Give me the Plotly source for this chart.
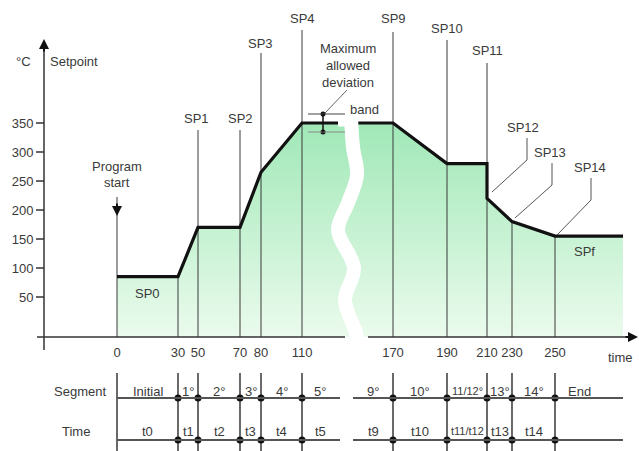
import plotly.graph_objects as go

# ---------------- data ----------------
times = [0, 30, 50, 70, 80, 110, 170, 190, 210, 230, 250]
time_tick_labels = ["0", "30", "50", "70", "80", "110", "170", "190", "210", "230", "250"]
# schematic (non-proportional) position of each time on the diagram's axis
time_pos = [0, 61, 81, 123, 144, 185, 276, 330, 370, 395, 438]

# setpoint profile: time -> °C
profile_t = [0, 30, 50, 70, 80, 110, 170, 190, 210, 210, 230, 250]
profile_v = [85, 85, 170, 170, 265, 350, 350, 280, 280, 220, 180, 155]
final_setpoint = 155

y_ticks = [50, 100, 150, 200, 250, 300, 350]

segments = ["Initial", "1°", "2°", "3°", "4°", "5°", "9°", "10°", "11/12°", "13°", "14°", "End"]
segment_times = ["t0", "t1", "t2", "t3", "t4", "t5", "t9", "t10", "t11/t12", "t13", "t14", ""]

# ---------------- layout helpers ----------------
W, H = 639, 451
X0_PX = 117          # pixel of time 0
ZERO_PY = 326        # pixel of 0 °C
PX_PER_DEG = 0.58


def X(px):
    return px - X0_PX


def Y(py):
    return (ZERO_PY - py) / PX_PER_DEG


pos_of = dict(zip(times, time_pos))
BASE = Y(337)
END_POS = X(623)

TXT = "#3a3a3a"
FONT = "Liberation Sans, Arial, sans-serif"
FS = 13

fig = go.Figure()

# green filled area under the profile
px_prof = [pos_of[t] for t in profile_t]
fig.add_trace(go.Scatter(
    x=[0] + px_prof + [END_POS, END_POS],
    y=[BASE] + profile_v + [final_setpoint, BASE],
    fill="toself", mode="lines", line=dict(width=0),
    fillgradient=dict(type="vertical", colorscale=[[0, "#ebfbed"], [1, "#a0e8b7"]],
                      start=BASE, stop=350),
    hoverinfo="skip", showlegend=False))

# vertical setpoint lines
vline_top_py = [197, None, 130, 130, 53, 30, 32, 40, 63, None, None]
vx, vy = [], []
for t, p, top in zip(times, time_pos, vline_top_py):
    if top is None:
        ytop = profile_v[len(profile_t) - 1 - profile_t[::-1].index(t)]
    else:
        ytop = Y(top)
    vx += [p, p, None]
    vy += [BASE, ytop, None]
fig.add_trace(go.Scatter(x=vx, y=vy, mode="lines", line=dict(color="#3a3a3a", width=1),
                         hoverinfo="skip", showlegend=False))

# setpoint profile line
fig.add_trace(go.Scatter(x=px_prof + [END_POS], y=profile_v + [final_setpoint], mode="lines",
                         line=dict(color="#111111", width=3.2), hoverinfo="skip", showlegend=False))

# white wavy break band
band_px = [(351, 117), (353, 147), (357, 175), (348, 203), (338, 230), (354, 268), (345, 300), (356, 333), (357, 341)]
fig.add_trace(go.Scatter(x=[X(a) for a, b in band_px], y=[Y(b) for a, b in band_px], mode="lines",
                         line=dict(color="white", width=14, shape="spline"),
                         hoverinfo="skip", showlegend=False))
fig.add_trace(go.Scatter(x=[X(338), X(357)], y=[350, 350], mode="lines",
                         line=dict(color="white", width=7), hoverinfo="skip", showlegend=False))

# table vertical lines and dots
tx, ty = [], []
for p in time_pos:
    tx += [p, p, None]
    ty += [Y(373), Y(455), None]
fig.add_trace(go.Scatter(x=tx, y=ty, mode="lines", line=dict(color="#444444", width=1.6),
                         hoverinfo="skip", showlegend=False))
row_y = [Y(398), Y(440)]
dx = [p for p in time_pos[1:] for _ in row_y]
dy = [r for _ in time_pos[1:] for r in row_y]
fig.add_trace(go.Scatter(x=dx, y=dy, mode="markers", marker=dict(color="#111111", size=7),
                         hoverinfo="skip", showlegend=False))

shapes = []


def seg(x0, y0, x1, y1, color="#444444", width=1):
    shapes.append(dict(type="line", xref="x", yref="y", x0=X(x0), y0=Y(y0), x1=X(x1), y1=Y(y1),
                       line=dict(color=color, width=width), layer="above"))


# axes lines
seg(44, 350, 44, 46, "#333333", 1.5)
seg(37, 337, 345, 337, "#333333", 1.5)
seg(368, 337, 632, 337, "#333333", 1.5)
# table horizontal lines
for r in (398, 440):
    seg(117, r, 340, r, "#555555", 2)
    seg(353, r, 623, r, "#555555", 2)
# deviation band marker
seg(308, 114, 345, 114, "#444444", 1)
seg(308, 132, 345, 132, "#888888", 1)
seg(323, 114, 323, 132, "#111111", 1.5)
seg(325, 113, 347, 90, "#666666", 1)
# SP12 / SP13 / SP14 leaders
for (lx, ly0, ly1, ex, ey) in [(527, 138, 160, 492, 192), (552, 163, 185, 515, 218), (591, 178, 200, 557, 235)]:
    seg(lx, ly0, lx, ly1, "#555555", 1)
    seg(lx, ly1, ex, ey, "#555555", 1)

fig.add_trace(go.Scatter(x=[X(323), X(323)], y=[Y(114), Y(132)], mode="markers",
                         marker=dict(color="#111111", size=5), hoverinfo="skip", showlegend=False))

annotations = []


def txt(px, py, s, size=FS, xanchor="center"):
    annotations.append(dict(x=X(px), y=Y(py), xref="x", yref="y", text=s, showarrow=False,
                            xanchor=xanchor, yanchor="middle", font=dict(family=FONT, size=size, color=TXT)))


def arrow(px, py, ax, ay):
    annotations.append(dict(x=X(px), y=Y(py), xref="x", yref="y", text="", showarrow=True,
                            ax=ax, ay=ay, arrowhead=2, arrowsize=1, arrowwidth=2, arrowcolor="#111111",
                            standoff=0))


arrow(44, 39, 0, 14)
arrow(638, 337, -14, 0)
arrow(117, 216, 0, -14)

txt(23, 61, "°C")
txt(48, 61, "Setpoint", xanchor="left")
txt(117, 166, "Program")
txt(117, 182, "start")
txt(348, 48, "Maximum")
txt(348, 65, "allowed")
txt(348, 82, "deviation")
txt(364, 109, "band")
txt(620, 357, "time")

sp_labels = ["SP0", "SP1", "SP2", "SP3", "SP4", "SP9", "SP10", "SP11", "SP12", "SP13", "SP14", "SPf"]
sp_label_px = [(147, 293), (196, 118), (240, 118), (260, 43), (302, 18), (393, 18), (447, 28),
               (487, 50), (523, 127), (550, 152), (590, 167), (584, 251)]
for s, (a, b) in zip(sp_labels, sp_label_px):
    txt(a, b, s)

txt(80, 391, "Segment")
txt(76, 431, "Time")
cell_edges = [(0, 61), (61, 81), (81, 123), (123, 144), (144, 185), (185, X(338)),
              (X(353), 276), (276, 330), (330, 370), (370, 395), (395, 438), (438, X(604))]
for s, tl, (a, b) in zip(segments, segment_times, cell_edges):
    c = (a + b) / 2 + X0_PX
    sz = 11 if "/" in s else FS
    txt(c, 391, s, sz)
    if tl:
        txt(c, 431, tl, sz)

fig.update_layout(
    width=W, height=H, margin=dict(l=0, r=0, t=0, b=0),
    paper_bgcolor="white", plot_bgcolor="white", showlegend=False,
    shapes=shapes, annotations=annotations,
    font=dict(family=FONT, size=FS, color=TXT),
    xaxis=dict(range=[X(0), X(W)], showgrid=False, zeroline=False, showline=False,
               tickmode="array", tickvals=time_pos, ticktext=time_tick_labels, ticks="",
               anchor="free", position=1 - 337 / H, ticklabelstandoff=6,
               tickfont=dict(family=FONT, size=FS, color=TXT), fixedrange=True),
    yaxis=dict(range=[Y(H), Y(0)], showgrid=False, zeroline=False, showline=False,
               tickmode="array", tickvals=y_ticks, ticks="outside", ticklen=8, tickwidth=1.5,
               tickcolor="#666666", anchor="free", position=44 / W,
               tickfont=dict(family=FONT, size=FS, color=TXT), fixedrange=True),
)

fig.write_html("out.html", config={"displayModeBar": False},
               post_script="document.body.style.margin='0';")
